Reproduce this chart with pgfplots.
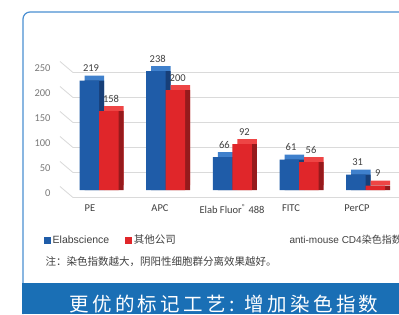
\documentclass[border=0pt]{standalone}
\usepackage{pgfplots}
\usepackage{pgfplotstable}
\pgfplotsset{compat=1.18}
\usepackage{fontspec}
\setmainfont{Carlito}
\newfontfamily\cjk{Noto Sans CJK SC}
\newfontfamily\cjkwide{Noto Sans CJK SC}[LetterSpace=17]
\newfontfamily\arial{Liberation Sans}
\definecolor{bluef}{HTML}{1F5CA8}
\definecolor{bluetop}{HTML}{3F80CC}
\definecolor{blueside}{HTML}{173F78}
\definecolor{redf}{HTML}{E0262A}
\definecolor{redtop}{HTML}{EE4545}
\definecolor{redside}{HTML}{961A1C}
\definecolor{gridc}{HTML}{DADADA}
\definecolor{framec}{HTML}{4A8FD2}
\definecolor{bannerc}{HTML}{1A6FB5}
\definecolor{textc}{HTML}{404040}
\definecolor{tickc}{HTML}{7A7A7A}
\pgfplotstableread{
x a b
0 219 158
1 238 200
2 66 92
3 61 56
4 31 9
}\data
\begin{document}
\begin{tikzpicture}[x=1pt,y=1pt]
\useasboundingbox (0,0) rectangle (399,314);
\begin{scope}
\clip (0,0) rectangle (399,314);
\fill[white] (0,0) rectangle (399,314);
\draw[framec, line width=1.2pt, rounded corners=7pt] (23,0) -- (23,302) -- (430,302);
\fill[bannerc] (22,0) rectangle (399,31);
\node[white, anchor=base, font=\cjkwide\fontsize{19.5}{20}\selectfont] at (224,3) {更优的标记工艺: 增加染色指数};
\node[anchor=west, text=textc, font=\cjk\fontsize{10.5}{12}\selectfont] at (42,52) {注：染色指数越大，阴阳性细胞群分离效果越好。};
\node[anchor=west, text=textc, font=\arial\fontsize{10}{12}\selectfont] at (286,74) {anti-mouse CD4{\cjk 染色指数}};
\begin{axis}[
  at={(60pt,124pt)}, anchor=south west,
  scale only axis, width=339pt, height=125pt,
  xmin=-0.585, xmax=4.5, ymin=0, ymax=250,
  clip=false,
  axis line style={draw=none},
  major tick length=0pt,
  tick style={draw=none},
  /pgf/number format/assume math mode=true,
  ytick={0,50,100,150,200,250},
  yticklabel style={text=tickc, font=\fontsize{10.5}{12}\selectfont, xshift=-6pt, yshift=-3.5pt},
  xtick={-0.135,0.915,1.995,2.88,3.87},
  xticklabels={PE,APC,Elab Fluor\textsuperscript{®} 488,FITC,PerCP},
  xticklabel style={text=textc, font=\fontsize{10.5}{12}\selectfont, yshift=-11pt},
  legend style={at={(-0.056,-0.4)}, anchor=west, draw=none, fill=none,
    legend columns=2, font=\arial\fontsize{10.5}{12}\selectfont, text=textc,
    /tikz/every even column/.append style={column sep=14pt}},
  legend image code/.code={\fill[#1] (0pt,-3.5pt) rectangle (6.5pt,3.5pt);},
]
\pgfplotsinvokeforeach{0,50,100,150,200,250}{
  \draw[gridc, line width=0.8pt] ([yshift=3.5pt]axis cs:-0.585,#1) -- ([xshift=13pt,yshift=-7.5pt]axis cs:-0.585,#1) -- ([yshift=-7.5pt]axis cs:4.7,#1);
}
\addplot[ybar, bar width=19.5pt, bar shift=-9.75pt, fill=bluetop, draw=none, xshift=5pt, yshift=5pt, forget plot] table[x=x,y=a]{\data};
\addplot[ybar, bar width=19.5pt, bar shift=-9.75pt, fill=blueside, draw=none, xshift=5pt, forget plot] table[x=x,y=a]{\data};
\addplot[ybar, bar width=19.5pt, bar shift=-9.75pt, fill=bluef, draw=none, nodes near coords,
  nodes near coords style={text=textc, font=\fontsize{10.5}{12}\selectfont, anchor=south, xshift=-8pt, yshift=5pt}] table[x=x,y=a]{\data};
\addlegendentry{Elabscience}
\addplot[ybar, bar width=19.5pt, bar shift=9.75pt, fill=redtop, draw=none, xshift=5pt, yshift=5pt, forget plot] table[x=x,y=b]{\data};
\addplot[ybar, bar width=19.5pt, bar shift=9.75pt, fill=redside, draw=none, xshift=5pt, forget plot] table[x=x,y=b]{\data};
\addplot[ybar, bar width=19.5pt, bar shift=9.75pt, fill=redf, draw=none, nodes near coords,
  nodes near coords style={text=textc, font=\fontsize{10.5}{12}\selectfont, anchor=south, xshift=12pt, yshift=5pt}] table[x=x,y=b]{\data};
\addlegendentry{{\cjk 其他公司}}
\end{axis}
\end{scope}
\end{tikzpicture}
\end{document}
